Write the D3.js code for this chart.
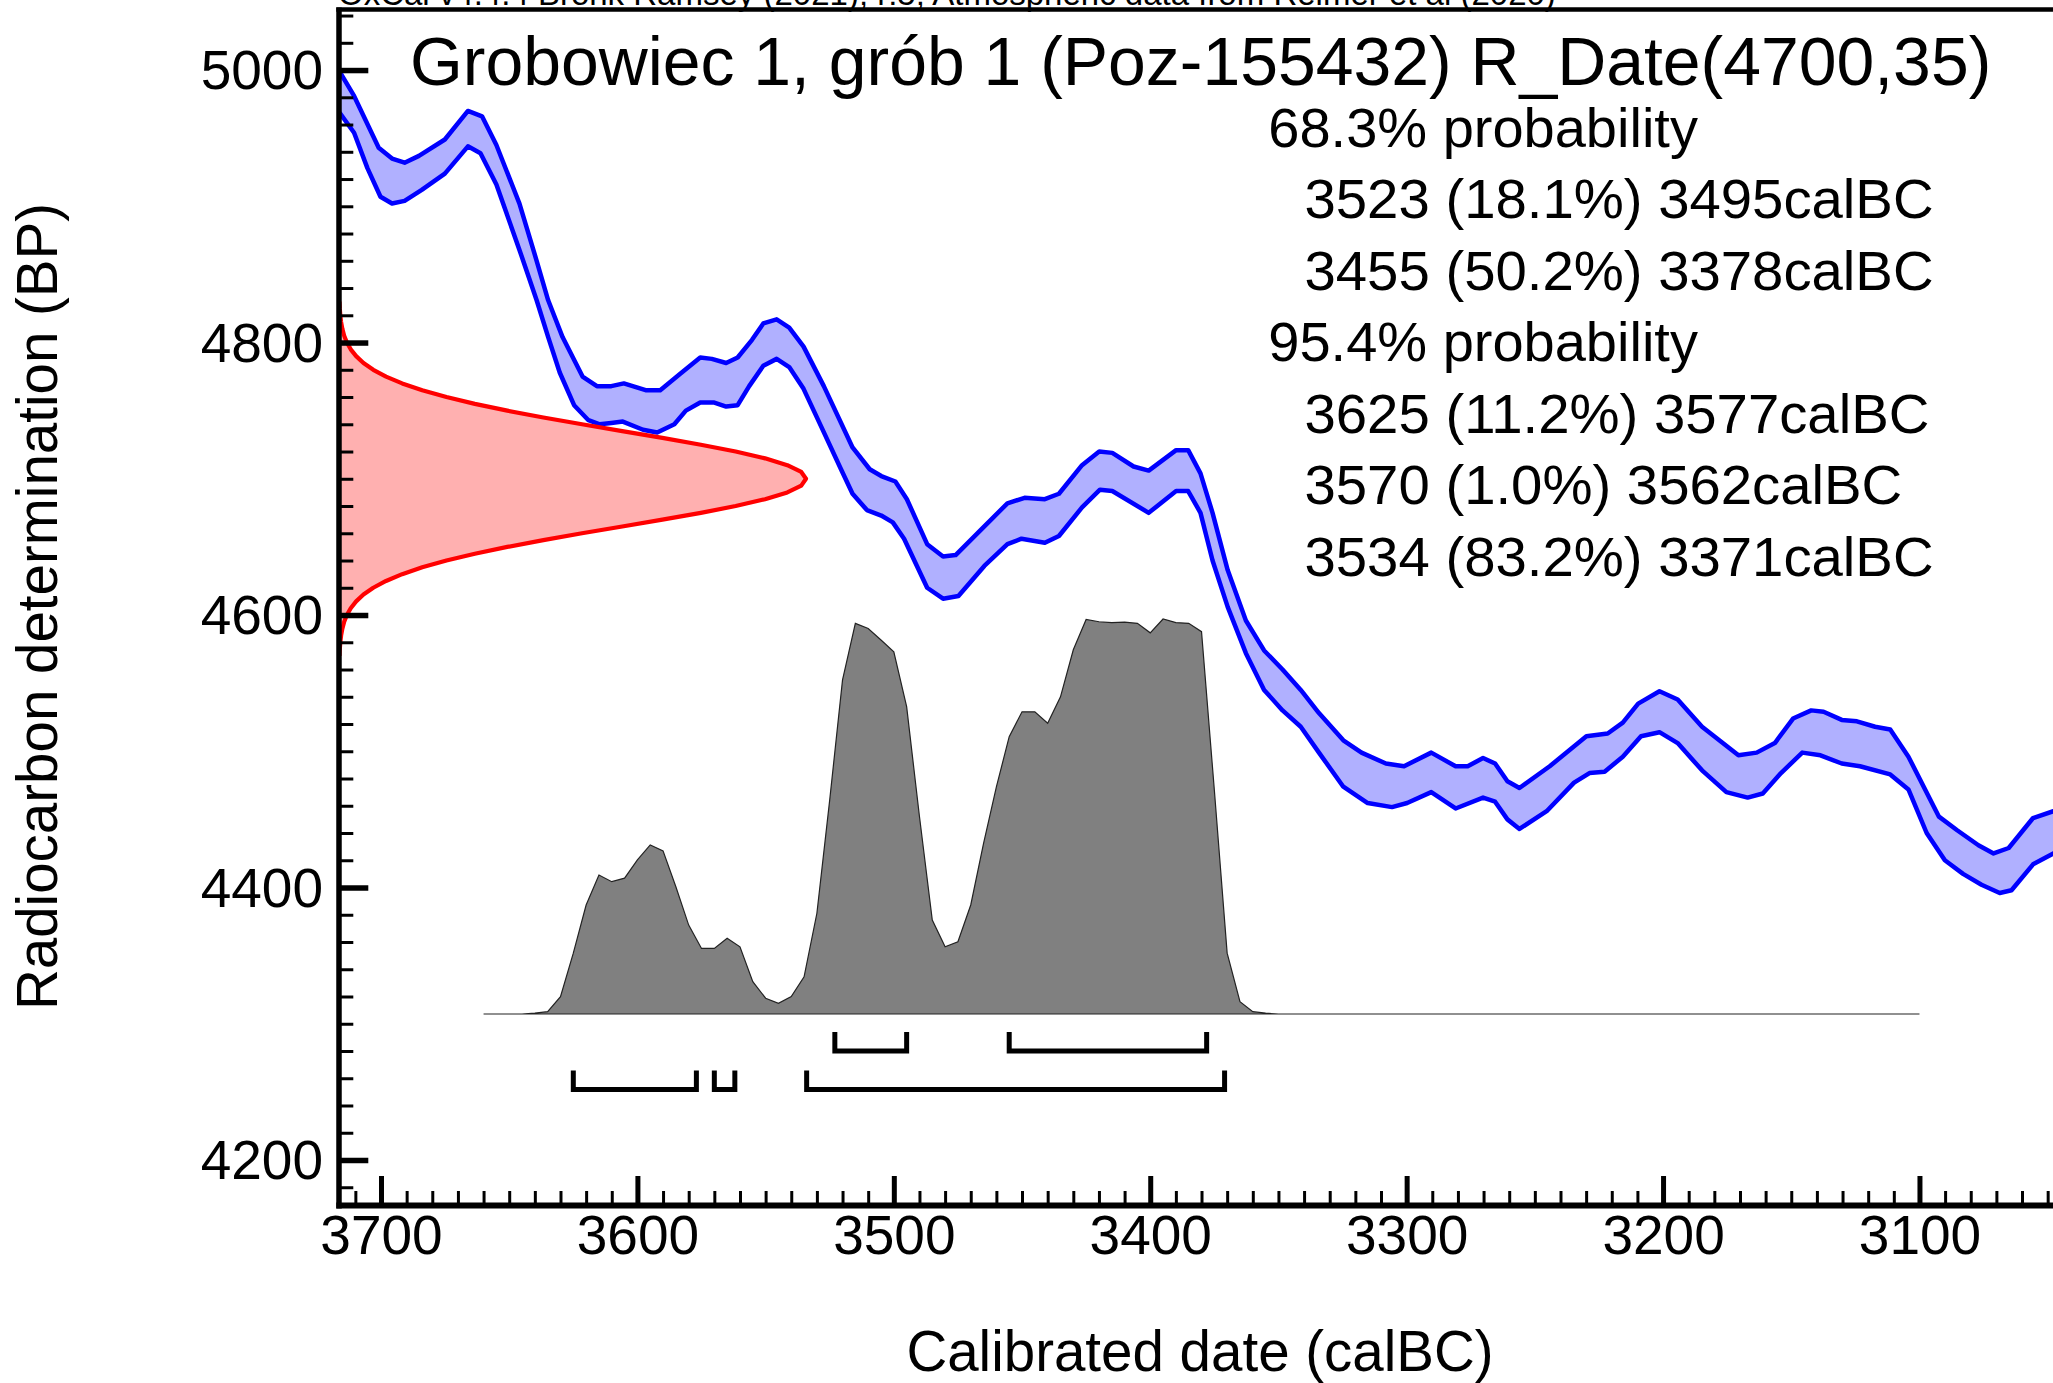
<!DOCTYPE html>
<html><head><meta charset="utf-8">
<script src="https://cdn.jsdelivr.net/npm/d3@7"></script>
<style>
html,body{margin:0;padding:0;background:#fff;}
svg{display:block;}
</style>
</head><body><div id="chart"></div>
<script>
// ---------------- DATA ----------------
const noteText = "OxCal v4.4.4 Bronk Ramsey (2021); r:5; Atmospheric data from Reimer et al (2020)";
const titleText = "Grobowiec 1, grób 1 (Poz-155432) R_Date(4700,35)";
const xAxisTitle = "Calibrated date (calBC)";
const yAxisTitle = "Radiocarbon determination (BP)";

const probHeader68 = "68.3% probability";
const probRanges68Text = ["3523 (18.1%) 3495calBC", "3455 (50.2%) 3378calBC"];
const probHeader95 = "95.4% probability";
const probRanges95Text = ["3625 (11.2%) 3577calBC", "3570 (1.0%) 3562calBC", "3534 (83.2%) 3371calBC"];

const xMajorTicks = [3700, 3600, 3500, 3400, 3300, 3200, 3100];
const xTickLabels = ["3700", "3600", "3500", "3400", "3300", "3200", "3100"];
const yMajorTicks = [4200, 4400, 4600, 4800, 5000];
const yTickLabels = ["4200", "4400", "4600", "4800", "5000"];

// calibration curve (IntCal20), upper and lower 1-sigma edges
const calUpperYears = [3718,3715.9,3710.5,3700.9,3695.7,3690.8,3685.2,3675.1,3666.1,3660.6,3655,3646,3639.3,3634.8,3629.2,3621.4,3615.8,3610.2,3605.3,3596.8,3591.1,3583.3,3575.5,3571,3565.4,3560.9,3555.3,3550.9,3545.7,3540.8,3535.2,3527.3,3516.1,3509.4,3504.9,3499.4,3494.9,3487,3480.8,3475.9,3464.7,3455.7,3449,3441.1,3435.6,3426.6,3419.9,3414.8,3406.5,3400.6,3389.9,3385.2,3380.4,3375.7,3369.8,3362.7,3355.6,3348.4,3341.3,3334.2,3324.7,3317.6,3308.1,3301,3290.4,3280.9,3276.2,3270.2,3265.5,3260.7,3256,3244.2,3229.9,3221.6,3215.7,3209.7,3201.4,3194.3,3184.8,3170.6,3163.5,3156.4,3149.3,3142.2,3137.4,3130.3,3124.4,3117.3,3111.4,3104.3,3092.4,3085.3,3077,3071.1,3065.2,3055.7,3047.8,3044];
const calUpperBP = [5002,4998,4981,4943,4935,4932,4937,4949,4970,4966,4945,4902,4860,4831,4804,4775,4768,4768,4770,4765,4765,4777,4789,4788,4785,4789,4802,4814,4817,4811,4797,4768,4723,4707,4702,4698,4685,4652,4643,4644,4665,4682,4686,4685,4689,4710,4720,4719,4709,4706,4721,4721,4704,4675,4633,4596,4574,4560,4545,4528,4508,4499,4491,4489,4499,4489,4489,4495,4491,4478,4473,4489,4511,4513,4521,4535,4544,4538,4518,4497,4499,4506,4524,4530,4529,4523,4522,4518,4516,4496,4452,4442,4431,4425,4429,4451,4456,4458];
const calLowerYears = [3718,3715.9,3710.5,3705.3,3700.2,3695.7,3690.8,3684.1,3675.1,3666.1,3661.2,3655,3646,3639.3,3634.8,3630.3,3624.7,3619.1,3614.7,3610.2,3605.7,3597.8,3592.3,3585.6,3581.1,3575.5,3570.3,3565.4,3560.9,3556.4,3550.9,3545.7,3540.8,3535.2,3528.5,3520.6,3516.1,3510.5,3504.9,3500.4,3496,3487,3480.8,3474.8,3464.7,3455.7,3450.2,3441.1,3435.6,3426.6,3419.6,3414.8,3400.6,3389.9,3385.2,3380.4,3375.7,3369.8,3362.7,3355.6,3348.4,3341.3,3334.2,3324.7,3315.2,3305.7,3299.8,3290.4,3280.9,3270.2,3265.5,3260.7,3256,3245.4,3234.7,3228.7,3222.8,3215.7,3208.6,3201.4,3194.3,3184.8,3175.3,3167,3161.1,3154,3145.7,3138.6,3130.3,3123.2,3111.4,3104.3,3097.2,3090.1,3083,3075.8,3068.7,3064.1,3055.7,3047.8,3044];
const calLowerBP = [4972,4968,4954,4928,4907,4902,4904,4912,4924,4944,4939,4916,4868,4831,4804,4778,4754,4743,4740,4741,4742,4736,4734,4740,4750,4756,4756,4753,4754,4768,4783,4788,4782,4766,4739,4707,4689,4677,4673,4668,4656,4620,4612,4614,4636,4652,4656,4653,4658,4679,4692,4691,4675,4691,4691,4675,4640,4606,4572,4545,4530,4518,4499,4474,4462,4459,4462,4470,4458,4466,4463,4450,4443,4456,4477,4484,4485,4496,4511,4514,4506,4486,4470,4466,4469,4484,4499,4497,4491,4489,4483,4472,4440,4420,4410,4402,4396,4398,4417,4425,4427];

// radiocarbon measurement R_Date(4700,35): BP values and relative probability
const dateBP = [4830,4825,4820,4815,4810,4805,4800,4795,4790,4785,4780,4775,4770,4765,4760,4755,4750,4745,4740,4735,4730,4725,4720,4715,4710,4705,4700,4695,4690,4685,4680,4675,4670,4665,4660,4655,4650,4645,4640,4635,4630,4625,4620,4615,4610,4605,4600,4595,4590,4585,4580,4575,4570];
const dateDensity = [0.0010,0.0017,0.0028,0.0045,0.0072,0.0111,0.0169,0.0251,0.0367,0.0524,0.0734,0.1007,0.1353,0.1783,0.2301,0.2909,0.3604,0.4376,0.5204,0.6065,0.6925,0.7748,0.8494,0.9123,0.9600,0.9899,1.0000,0.9899,0.9600,0.9123,0.8494,0.7748,0.6925,0.6065,0.5204,0.4376,0.3604,0.2909,0.2301,0.1783,0.1353,0.1007,0.0734,0.0524,0.0367,0.0251,0.0169,0.0111,0.0072,0.0045,0.0028,0.0017,0.0010];

// calibrated posterior (relative probability)
const postYears = [3660,3645,3640,3635,3630,3625,3620,3615,3610,3605,3600,3595,3590,3585,3580,3575,3570,3565,3560,3555,3550,3545,3540,3535,3530,3525,3520,3515,3510,3505,3500,3495,3490,3485,3480,3475,3470,3465,3460,3455,3450,3445,3440,3435,3430,3425,3420,3415,3410,3405,3400,3395,3390,3385,3380,3375,3370,3365,3360,3355,3350,3100];
const postDensity = [0,0,0.002,0.006,0.044,0.154,0.276,0.352,0.335,0.344,0.390,0.428,0.413,0.322,0.225,0.166,0.166,0.192,0.170,0.082,0.040,0.027,0.044,0.094,0.255,0.542,0.846,0.989,0.976,0.947,0.917,0.778,0.500,0.238,0.170,0.183,0.276,0.432,0.575,0.702,0.765,0.765,0.736,0.803,0.922,0.999,0.993,0.991,0.992,0.989,0.965,1.000,0.991,0.989,0.968,0.567,0.154,0.031,0.006,0.002,0,0];

const ranges68 = [[3523,3495],[3455,3378]];
const ranges95 = [[3625,3577],[3570,3562],[3534,3371]];

// ---------------- LAYOUT ----------------
const W = 2053, H = 1383;
const FONT = '"Liberation Sans", Arial, Helvetica, sans-serif';
const plotL = 339, plotR = 2061, plotT = 9.5, plotB = 1205.5;

const svg = d3.select("#chart").append("svg")
  .attr("width", W).attr("height", H).attr("viewBox", `0 0 ${W} ${H}`)
  .style("background", "#fff");

const x = d3.scaleLinear().domain([3716.38, 3044.8]).range([plotL, plotR]);
const y = d3.scaleLinear().domain([4166.6, 5043.7]).range([plotB, plotT + 1]);

const defs = svg.append("defs");
defs.append("clipPath").attr("id", "plotclip").append("rect")
  .attr("x", plotL).attr("y", plotT).attr("width", plotR - plotL).attr("height", plotB - plotT);

const plot = svg.append("g").attr("clip-path", "url(#plotclip)");

// calibration band
const upper = calUpperYears.map((yr, i) => [yr, calUpperBP[i]]);
const lower = calLowerYears.map((yr, i) => [yr, calLowerBP[i]]);
const lineGen = d3.line().x(d => x(d[0])).y(d => y(d[1]));
plot.append("path")
  .attr("d", lineGen(upper.concat(lower.slice().reverse())) + "Z")
  .attr("fill", "#b0b0ff").attr("stroke", "none");
[upper, lower].forEach(pts => {
  plot.append("path").attr("d", lineGen(pts))
    .attr("fill", "none").attr("stroke", "#0000ff").attr("stroke-width", 4.5)
    .attr("stroke-linejoin", "round");
});

// radiocarbon date distribution on the y axis
const rScale = d3.scaleLinear().domain([0, 1]).range([plotL, 806]);
const dateData = dateBP.map((bp, i) => ({ bp, v: dateDensity[i] }));
plot.append("path")
  .attr("d", d3.area().y(d => y(d.bp)).x0(plotL).x1(d => rScale(d.v))(dateData))
  .attr("fill", "#ffb0b0").attr("stroke", "none");
plot.append("path")
  .attr("d", d3.line().y(d => y(d.bp)).x(d => rScale(d.v))(dateData))
  .attr("fill", "none").attr("stroke", "#ff0000").attr("stroke-width", 4.2)
  .attr("stroke-linejoin", "round");

// posterior
const baseY = 1014;
const hScale = d3.scaleLinear().domain([0, 1]).range([baseY, baseY - 395]);
const postData = postYears.map((yr, i) => ({ yr, v: postDensity[i] }));
plot.append("path")
  .attr("d", d3.area().x(d => x(d.yr)).y0(baseY).y1(d => hScale(d.v))(postData) )
  .attr("fill", "#808080").attr("stroke", "#222").attr("stroke-width", 1.2);

// range brackets
function brackets(ranges, topY, lineY) {
  ranges.forEach(r => {
    plot.append("path")
      .attr("d", `M${x(r[0])},${topY}L${x(r[0])},${lineY}L${x(r[1])},${lineY}L${x(r[1])},${topY}`)
      .attr("fill", "none").attr("stroke", "#000").attr("stroke-width", 5)
      .attr("stroke-linejoin", "miter").attr("stroke-linecap", "butt");
  });
}
brackets(ranges68, 1032, 1051);
brackets(ranges95, 1070.5, 1089.5);

// ---------------- AXES ----------------
const xMinor = d3.range(3710, 3040, -10).filter(v => v % 100 !== 0);
const yMinor = d3.range(4180, 5041, 20).filter(v => v % 200 !== 0);

const gxMinor = svg.append("g").attr("transform", `translate(0,${plotB})`)
  .call(d3.axisBottom(x).tickValues(xMinor).tickSize(-14.5).tickFormat(""));
gxMinor.select(".domain").remove();
gxMinor.selectAll(".tick line").attr("stroke", "#000").attr("stroke-width", 3);

const gx = svg.append("g").attr("transform", `translate(0,${plotB})`)
  .call(d3.axisBottom(x).tickValues(xMajorTicks).tickSize(-29.5).tickPadding(9.8)
    .tickFormat((d, i) => xTickLabels[i]));
gx.attr("font-family", FONT).attr("font-size", 55);
gx.select(".domain").remove();
gx.selectAll(".tick line").attr("stroke", "#000").attr("stroke-width", 5);
gx.selectAll(".tick text").attr("fill", "#000").attr("font-size", 55).attr("font-family", FONT);

const gyMinor = svg.append("g").attr("transform", `translate(${plotL},0)`)
  .call(d3.axisLeft(y).tickValues(yMinor).tickSize(-14.3).tickFormat(""));
gyMinor.select(".domain").remove();
gyMinor.selectAll(".tick line").attr("stroke", "#000").attr("stroke-width", 3);

const gy = svg.append("g").attr("transform", `translate(${plotL},0)`)
  .call(d3.axisLeft(y).tickValues(yMajorTicks).tickSize(-29.3).tickPadding(16)
    .tickFormat((d, i) => yTickLabels[i]));
gy.attr("font-family", FONT).attr("font-size", 55);
gy.select(".domain").remove();
gy.selectAll(".tick line").attr("stroke", "#000").attr("stroke-width", 5.5);
gy.selectAll(".tick text").attr("fill", "#000").attr("dy", "0.34em")
  .attr("font-size", 55).attr("font-family", FONT);

// frame
svg.append("line").attr("x1", plotL).attr("x2", plotL).attr("y1", plotT - 2).attr("y2", plotB + 3)
  .attr("stroke", "#000").attr("stroke-width", 5.5);
svg.append("line").attr("x1", plotL - 2.7).attr("x2", plotR).attr("y1", plotB).attr("y2", plotB)
  .attr("stroke", "#000").attr("stroke-width", 6);
svg.append("line").attr("x1", plotL - 2.7).attr("x2", plotR).attr("y1", plotT).attr("y2", plotT)
  .attr("stroke", "#000").attr("stroke-width", 4.5);

// ---------------- TEXT ----------------
svg.append("text").attr("x", 338).attr("y", 5)
  .attr("font-family", FONT).attr("font-size", 33).attr("fill", "#000").text(noteText);

svg.append("text").attr("x", 410).attr("y", 84.5)
  .attr("font-family", FONT).attr("font-size", 67.9).attr("fill", "#000").text(titleText);

const probLines = [
  { t: probHeader68, lvl: 0 },
  ...probRanges68Text.map(t => ({ t, lvl: 1 })),
  { t: probHeader95, lvl: 0 },
  ...probRanges95Text.map(t => ({ t, lvl: 1 }))
];
svg.append("g").attr("font-family", FONT).attr("font-size", 56).attr("fill", "#000")
  .selectAll("text").data(probLines).join("text")
  .attr("x", d => d.lvl ? 1304.5 : 1268.3)
  .attr("y", (d, i) => 146.7 + i * 71.47)
  .attr("font-size", d => d.lvl ? 56.3 : 56)
  .text(d => d.t);

svg.append("text").attr("x", 1200).attr("y", 1371).attr("text-anchor", "middle")
  .attr("font-family", FONT).attr("font-size", 56.5).attr("fill", "#000").text(xAxisTitle);

svg.append("text").attr("transform", "rotate(-90)").attr("x", -606.5).attr("y", 57)
  .attr("text-anchor", "middle")
  .attr("font-family", FONT).attr("font-size", 56.5).attr("fill", "#000").text(yAxisTitle);
</script>
</body></html>
